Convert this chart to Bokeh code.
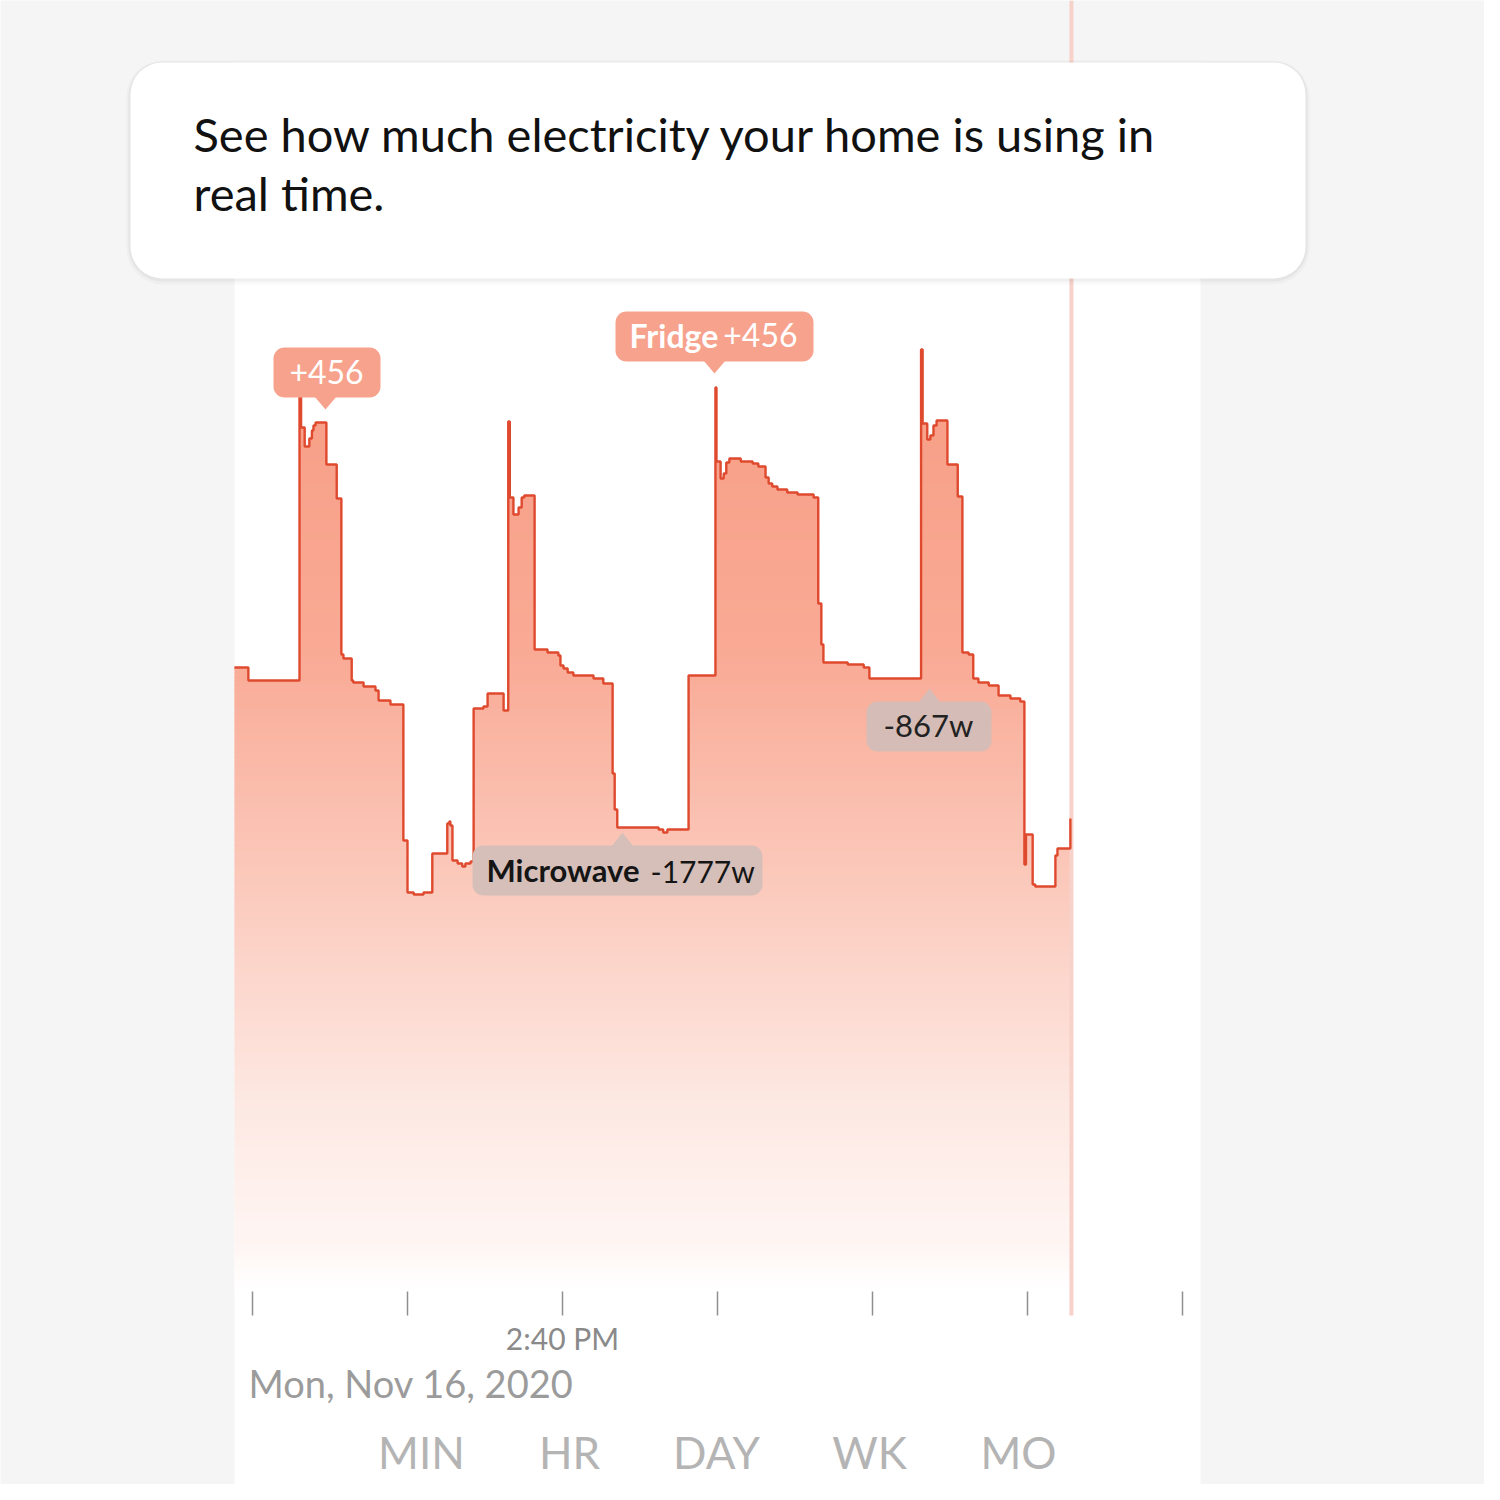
import numpy as np
from bokeh.plotting import figure
from bokeh.models import Range1d, BoxAnnotation, Label
from bokeh.core.properties import value
from bokeh.embed import file_html
from bokeh.resources import INLINE

# ---------------- data ----------------
# seconds after 2:30 PM (start of each step)
time_s = [-35, -8, 91, 94, 101, 110, 115, 118, 122, 143,
          163, 172, 176, 192, 195, 215, 238, 244, 267, 292,
          300, 312, 331, 348, 377, 381, 383, 387, 397, 406,
          412, 422, 428, 447, 455, 486, 495, 498, 505, 515,
          521, 526, 546, 571, 592, 596, 602, 610, 621, 660,
          679, 697, 701, 706, 786, 795, 803, 844, 896, 898,
          906, 912, 917, 923, 945, 968, 979, 993, 999, 1006,
          1016, 1035, 1055, 1086, 1095, 1101, 1105, 1152, 1183, 1194,
          1294, 1297, 1306, 1312, 1318, 1324, 1345, 1365, 1374, 1386,
          1395, 1405, 1425, 1444, 1467, 1486, 1494, 1497, 1510, 1515,
          1554, 1558, 1583]
# household power, watts
watts = [3115, 3050, 4700, 4315, 4220, 4260, 4300, 4325, 4340, 4130,
         3960, 3180, 3160, 3050, 3040, 3020, 3000, 2950, 2930, 2250,
         1990, 1980, 1990, 2185, 2335, 2345, 2325, 2150, 2135, 2120,
         2135, 2145, 2910, 2920, 2985, 2900, 4345, 3965, 3880, 3915,
         3965, 3975, 3205, 3190, 3175, 3125, 3110, 3090, 3075, 3060,
         3035, 2585, 2405, 2315, 2305, 2290, 2305, 3075, 4515, 4145,
         4060, 4085, 4140, 4160, 4145, 4135, 4120, 4065, 4035, 4020,
         4005, 3990, 3980, 3965, 3435, 3230, 3140, 3130, 3115, 3060,
         4705, 4335, 4255, 4275, 4325, 4350, 4130, 3970, 3190, 3180,
         3060, 3040, 3025, 2975, 2960, 2945, 2130, 2280, 2030, 2020,
         2175, 2210, 2360]
assert len(time_s) == len(watts)

tick_times = [0, 300, 600, 900, 1200, 1500, 1800]
tick_label_time = [600]
tick_label_text = ["2:40 PM"]
now_time = 1585
date_text = "Mon, Nov 16, 2020"
period_labels = ["MIN", "HR", "DAY", "WK", "MO"]
callout_lines = ["See how much electricity your home is using in", "real time."]

FONT = "Lato"
W = H = 1484
K_BASE = 0.42   # renderer places alphabetic text ~0.42em low; compensate


def by(baseline, size):
    return baseline - K_BASE * size

# ---------------- figure (layout space = screen pixels) ----------------
p = figure(width=W, height=H,
           x_range=Range1d(0, W), y_range=Range1d(H, 0),
           output_backend="svg", toolbar_location=None,
           x_axis_location=None, y_axis_location=None,
           min_border=0, outline_line_color=None,
           background_fill_color="#f5f5f5", border_fill_color="#f5f5f5")
p.grid.visible = False

# data ranges: time (s after 2:30 PM) and watts
t_range = Range1d(-487.742, 2384.516)
w_range = Range1d(-970, 6450)
p.extra_x_ranges = {"t": t_range}
p.extra_y_ranges = {"w": w_range}


def px_to_w(ypx):
    return w_range.end - ypx * (w_range.end - w_range.start) / H

# white card
p.quad(left=234, right=1200, top=62, bottom=H, fill_color="white", line_color=None)

# area fill as opaque horizontal slices (vertical gradient to white)
C0 = np.array([248, 158, 134])
stops_y = [380, 650, 900, 1100, 1250, 1290]
stops_a = [0.0, 0.12, 0.47, 0.76, 0.91, 1.0]
watts_arr = np.array(watts, dtype=float)
for y_top in range(340, 1290, 4):
    a = float(np.interp(y_top + 2, stops_y, stops_a))
    col = tuple(int(round(c * (1 - a) + 255 * a)) for c in C0)
    hi = px_to_w(y_top)
    lo = max(0.0, px_to_w(y_top + 5))
    upper = np.clip(watts_arr, lo, hi)
    p.varea_step(x=time_s, y1=lo, y2=upper, step_mode="after",
                 fill_color="#%02x%02x%02x" % col,
                 x_range_name="t", y_range_name="w")

# "now" line
p.segment(x0=[now_time], y0=[0], x1=[now_time], y1=[1315], x_range_name="t",
          line_color="#f7d2ca", line_width=4)

# the power line
p.step(x=time_s, y=watts, mode="after", line_color="#df4a2f", line_width=2.4,
       x_range_name="t", y_range_name="w")

# ticks
p.segment(x0=tick_times, y0=1291, x1=tick_times, y1=1315, x_range_name="t",
          line_color="#8f8f8f", line_width=1.5)
p.text(x=tick_label_time, y=[by(1350, 30)], text=tick_label_text, x_range_name="t",
       text_align="center", text_baseline="alphabetic",
       text_font=value(FONT), text_font_size="30px", text_color="#8a8a8a")

# date
p.text(x=[248], y=[by(1398, 38)], text=[date_text], text_align="left",
       text_baseline="alphabetic",
       text_font=value(FONT), text_font_size="38px", text_color="#9b9b9b")

# period selector
p.text(x=[421, 569, 716, 869, 1018], y=[by(1470, 44)] * 5, text=period_labels,
       text_align="center", text_baseline="alphabetic",
       text_font=value(FONT), text_font_size="44px", text_color="#b4b4b4")

# tooltip pointers
SALMON = "#f7a28c"
GREY1, GREY2 = "#d6bfb9", "#d5bcb6"
p.patches(xs=[[314, 336, 325], [703, 725, 714], [611, 633, 622], [918, 940, 929]],
          ys=[[396, 396, 409], [360, 360, 373], [846, 846, 832], [702, 702, 688]],
          fill_color=[SALMON, SALMON, GREY1, GREY2], line_color=None)

# tooltip boxes
for (l, r, t, b, c) in [(273, 380, 347, 397, SALMON), (615, 813, 311, 361, SALMON),
                        (472, 762, 845, 895, GREY1), (866, 991, 701, 751, GREY2)]:
    p.add_layout(BoxAnnotation(left=l, right=r, top=t, bottom=b, fill_color=c, fill_alpha=1.0,
                               line_alpha=0, border_radius=11))


def lab(x, baseline, text, size, color, align="left", style="normal"):
    p.add_layout(Label(x=x, y=by(baseline, size), text=text, text_align=align,
                       text_baseline="alphabetic",
                       text_font=FONT, text_font_size="%dpx" % size, text_color=color,
                       text_font_style=style))

lab(326, 385, "+456", 32, "white", "center")
lab(629, 348, "Fridge", 32, "white", "left", "bold")
lab(797, 348, "+456", 32, "white", "right")
lab(486, 883, "Microwave", 31, "#151515", "left", "bold")
lab(650, 883, "-1777w", 30, "#151515", "left")
lab(928, 738, "-867w", 31, "#222222", "center")

# callout card with soft shadow
p.add_layout(BoxAnnotation(left=126, right=1309, top=60, bottom=284, fill_color="black",
                           fill_alpha=0.025, line_alpha=0, border_radius=36))
p.add_layout(BoxAnnotation(left=128, right=1307, top=61, bottom=281, fill_color="black",
                           fill_alpha=0.04, line_alpha=0, border_radius=34))
p.add_layout(BoxAnnotation(left=130, right=1305, top=62, bottom=278, fill_color="white",
                           fill_alpha=1.0, line_alpha=0, border_radius=32))
lab(193, 153, callout_lines[0], 47, "#111111")
lab(193, 212, callout_lines[1], 47, "#111111")

open("out.html", "w").write(file_html(p, INLINE))
